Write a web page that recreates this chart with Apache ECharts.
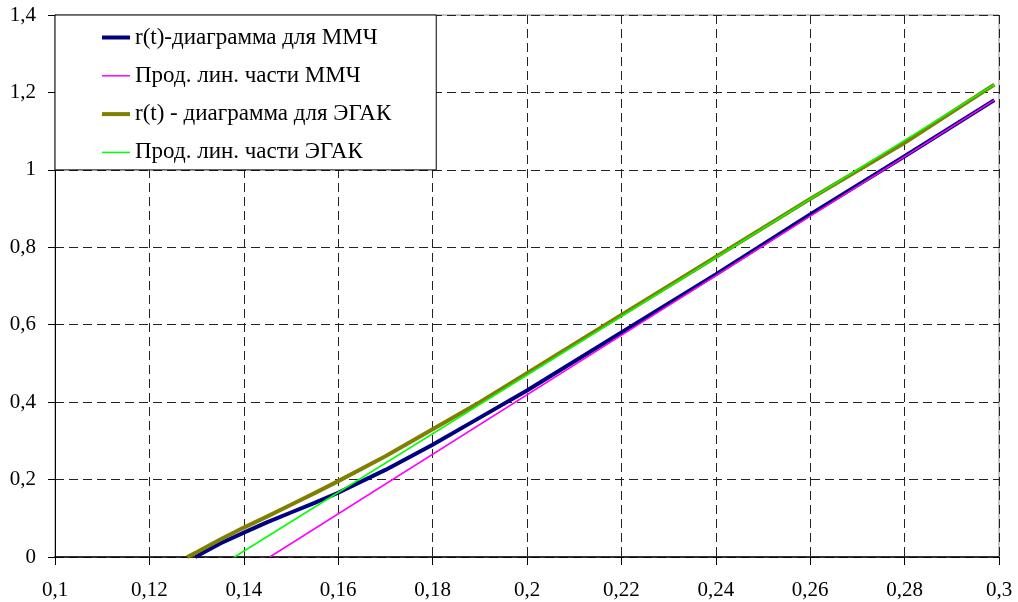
<!DOCTYPE html>
<html>
<head>
<meta charset="utf-8">
<script src="https://cdn.jsdelivr.net/npm/echarts@6/dist/echarts.min.js"></script>
<style>
  html, body { margin: 0; padding: 0; background: #fff; }
  #main { width: 1018px; height: 602px; }
</style>
</head>
<body>
<div id="main"></div>
<script>
// r(t) для ММЧ
var mmchX = [0.1297, 0.135, 0.14, 0.145, 0.15, 0.155, 0.16, 0.17, 0.18, 0.19, 0.2, 0.21, 0.22, 0.24, 0.26, 0.28, 0.299];
var mmchY = [0, 0.035, 0.063, 0.09, 0.115, 0.14, 0.166, 0.225, 0.29, 0.36, 0.43, 0.505, 0.58, 0.73, 0.885, 1.035, 1.18];
// продолжение линейной части ММЧ
var mmchLinX = [0.1455, 0.299];
var mmchLinY = [0, 1.18];
// r(t) для ЭГАК
var egakX = [0.128, 0.13, 0.135, 0.14, 0.145, 0.15, 0.155, 0.16, 0.17, 0.18, 0.19, 0.2, 0.22, 0.24, 0.26, 0.28, 0.299];
var egakY = [0, 0.012, 0.045, 0.076, 0.105, 0.135, 0.165, 0.196, 0.26, 0.33, 0.4, 0.475, 0.625, 0.775, 0.925, 1.07, 1.22];
// продолжение линейной части ЭГАК
var egakLinX = [0.138, 0.299];
var egakLinY = [0, 1.22];

var names = ['r(t)-диаграмма для ММЧ', 'Прод. лин. части ММЧ', 'r(t) - диаграмма для ЭГАК', 'Прод. лин. части ЭГАК'];
var colors = ['#000080', '#ff00ff', '#808000', '#00ff00'];
var widths = [4, 1.5, 4, 1.5];

function pairs(xs, ys) {
    var out = [];
    for (var i = 0; i < xs.length; i++) out.push([xs[i], ys[i]]);
    return out;
}
function fmt(v) {
    return String(parseFloat(v.toFixed(2))).replace('.', ',');
}

var font = "'Liberation Serif', 'Times New Roman', serif";
var dataSets = [pairs(mmchX, mmchY), pairs(mmchLinX, mmchLinY), pairs(egakX, egakY), pairs(egakLinX, egakLinY)];

var series = [];
var legendData = [];
for (var i = 0; i < names.length; i++) {
    series.push({
        name: names[i],
        type: 'line',
        symbol: 'none',
        animation: false,
        lineStyle: { color: colors[i], width: widths[i] },
        itemStyle: { color: colors[i] },
        data: dataSets[i]
    });
    legendData.push({ name: names[i], lineStyle: { width: widths[i] }, itemStyle: { opacity: 0 } });
}

var chart = echarts.init(document.getElementById('main'));
chart.setOption({
    animation: false,
    backgroundColor: '#fff',
    grid: {
        left: 55, right: 19, top: 15, bottom: 45,
        show: true, borderColor: '#888', borderWidth: 1
    },
    legend: {
        orient: 'vertical',
        left: 55, top: 15,
        padding: [10, 45, 5, 45],
        itemWidth: 28, itemHeight: 14, itemGap: 13.3,
        borderColor: '#000', borderWidth: 1,
        backgroundColor: '#fff',
        itemStyle: { opacity: 0 },
        textStyle: { fontFamily: font, fontSize: 23, color: '#000', lineHeight: 25 },
        data: legendData
    },
    xAxis: {
        type: 'value', min: 0.1, max: 0.3, interval: 0.02,
        axisLine: { lineStyle: { color: '#000', width: 1.5 } },
        axisTick: { show: true, length: 8, lineStyle: { color: '#000' } },
        axisLabel: { margin: 23, fontFamily: font, fontSize: 21, color: '#000', formatter: fmt },
        splitLine: { show: true, lineStyle: { color: '#222', type: [9, 5], width: 1 } }
    },
    yAxis: {
        type: 'value', min: 0, max: 1.4, interval: 0.2,
        axisLine: { show: true, lineStyle: { color: '#000', width: 1 } },
        axisTick: { show: true, length: 7, lineStyle: { color: '#000' } },
        axisLabel: { margin: 19, fontFamily: font, fontSize: 21, color: '#000', formatter: fmt },
        splitLine: { show: true, lineStyle: { color: '#222', type: [9, 5], width: 1 } }
    },
    series: series
});
</script>
</body>
</html>
